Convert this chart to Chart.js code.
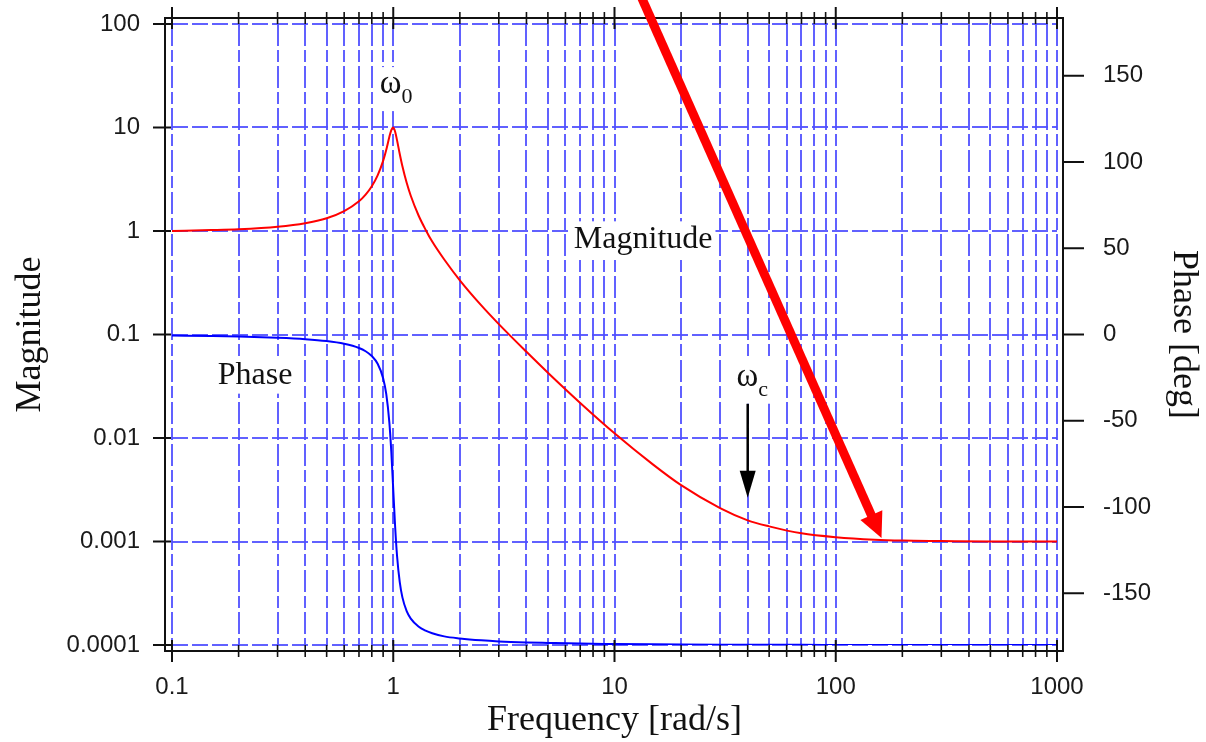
<!DOCTYPE html>
<html>
<head>
<meta charset="utf-8">
<title>Bode plot</title>
<script src="https://cdn.jsdelivr.net/npm/chart.js@4.4.1/dist/chart.umd.min.js"></script>
<style>
  html, body { margin: 0; padding: 0; background: #fff; }
  #wrap { width: 1206px; height: 742px; }
</style>
</head>
<body>
<div id="wrap"><canvas id="bode" width="1206" height="742"></canvas></div>
<script>
// frequency response samples [rad/s]
const freq = [0.1, 0.15, 0.2, 0.3, 0.4, 0.5, 0.6, 0.7, 0.75, 0.8, 0.85, 0.9, 0.93, 0.96, 0.98,
  1.0, 1.02, 1.04, 1.07, 1.1, 1.15, 1.2, 1.3, 1.4, 1.5, 1.7, 2, 2.5, 3, 4,
  5, 7, 10, 15, 20, 30, 40, 50, 70, 100, 150, 200, 300, 500, 1000];
const magnitude = [1.0, 1.02, 1.04, 1.10, 1.19, 1.33, 1.56, 1.94, 2.25, 2.71, 3.45, 4.76, 6.1, 8.1, 9.45,
  10.0, 9.1, 7.55, 5.55, 4.22, 2.92, 2.19, 1.42, 1.03, 0.79, 0.53, 0.334, 0.191, 0.126, 0.068,
  0.0427, 0.0218, 0.0111, 0.0055, 0.0035, 0.0021, 0.0016, 0.0014, 0.0012, 0.0011, 0.00104, 0.00102, 0.00101, 0.001, 0.001];
const phase = [-0.6, -0.9, -1.2, -1.9, -2.7, -3.8, -5.4, -7.8, -9.7, -12.5, -17, -25.3, -34.6, -50.8, -68,
  -90, -111.6, -128.1, -143.6, -152.4, -160.4, -164.7, -169.3, -171.7, -173.2, -175, -176.2, -177.3, -177.9, -178.5,
  -178.8, -179.2, -179.4, -179.6, -179.7, -179.8, -179.85, -179.9, -179.9, -179.95, -180, -180, -180, -180, -180];

// axes
const freqTicks = [0.1, 0.2, 0.3, 0.4, 0.5, 0.6, 0.7, 0.8, 0.9,
  1, 2, 3, 4, 5, 6, 7, 8, 9,
  10, 20, 30, 40, 50, 60, 70, 80, 90,
  100, 200, 300, 400, 500, 600, 700, 800, 900, 1000];
const freqDecades = [0.1, 1, 10, 100, 1000];
const freqLabels = ['0.1', '1', '10', '100', '1000'];
const magTicks = [0.0001, 0.001, 0.01, 0.1, 1, 10, 100];
const magLabels = ['0.0001', '0.001', '0.01', '0.1', '1', '10', '100'];
const phaseTicks = [-150, -100, -50, 0, 50, 100, 150];

// text notes, placed in data units (left edge, baseline)
const notes = [
  { text: 'Magnitude', f: 6.55, m: 0.68 },
  { text: 'Phase', f: 0.161, m: 0.0335 }
];
const omegaNotes = [
  { sub: '0', f: 0.87, m: 21.5 },
  { sub: 'c', f: 35.6, m: 0.032 }
];
const cornerArrow = { f: 40, from: 0.0214, to: 0.00264 };
const redArrow = { f0: 12.8, m0: 213, f1: 161, m1: 0.00108 };

const SANS = "'Liberation Sans', Arial, sans-serif";
const SERIF = "'Liberation Serif', 'Times New Roman', serif";
const GRID = 'rgba(80, 80, 255, 0.9)';

function arrow(ctx, x0, y0, x1, y1, width, headLen, headHalf, color) {
  const len = Math.hypot(x1 - x0, y1 - y0);
  const ux = (x1 - x0) / len, uy = (y1 - y0) / len;
  const bx = x1 - ux * headLen, by = y1 - uy * headLen;
  ctx.strokeStyle = color;
  ctx.lineWidth = width;
  ctx.lineCap = 'butt';
  ctx.beginPath();
  ctx.moveTo(x0, y0);
  ctx.lineTo(bx + ux * 2, by + uy * 2);
  ctx.stroke();
  ctx.fillStyle = color;
  ctx.beginPath();
  ctx.moveTo(x1, y1);
  ctx.lineTo(bx - uy * headHalf, by + ux * headHalf);
  ctx.lineTo(bx + uy * headHalf, by - ux * headHalf);
  ctx.closePath();
  ctx.fill();
}

function seg(ctx, x0, y0, x1, y1) {
  ctx.beginPath();
  ctx.moveTo(x0, y0);
  ctx.lineTo(x1, y1);
  ctx.stroke();
}

// tick label padding should not push the plot area inwards
function noEdgePadding(axis) {
  axis.paddingTop = 0;
  axis.paddingBottom = 0;
  axis.paddingLeft = 0;
  axis.paddingRight = 0;
}

// frame, tick marks, labels and arrows
const bodeDecor = {
  id: 'bodeDecor',
  afterDraw(chart) {
    const { ctx, chartArea: a, scales } = chart;
    const sx = scales.x, sy = scales.y, sp = scales.y1;
    ctx.save();

    // labels on white backing
    ctx.textBaseline = 'alphabetic';
    ctx.textAlign = 'left';
    ctx.font = '32px ' + SERIF;
    notes.forEach(n => {
      const px = sx.getPixelForValue(n.f), py = sy.getPixelForValue(n.m);
      const w = ctx.measureText(n.text).width;
      ctx.fillStyle = '#fff';
      ctx.fillRect(px - 3, py - 27, w + 6, 37);
      ctx.fillStyle = '#111';
      ctx.fillText(n.text, px, py);
    });
    omegaNotes.forEach(n => {
      const px = sx.getPixelForValue(n.f), py = sy.getPixelForValue(n.m);
      ctx.font = '33px ' + SERIF;
      const w = ctx.measureText('\u03c9').width;
      ctx.font = '22px ' + SERIF;
      const ws = ctx.measureText(n.sub).width;
      ctx.fillStyle = '#fff';
      ctx.fillRect(px - 3, py - 26, w + ws + 6, 44);
      ctx.fillStyle = '#111';
      ctx.font = '33px ' + SERIF;
      ctx.fillText('\u03c9', px, py);
      ctx.font = '22px ' + SERIF;
      ctx.fillText(n.sub, px + w, py + 10);
    });

    // axis frame
    const L = a.left - 7, T = a.top - 6, R = a.right + 6, B = a.bottom + 6;
    ctx.strokeStyle = '#111';
    ctx.lineWidth = 2;
    ctx.strokeRect(L, T, R - L, B - T);
    freqTicks.forEach(v => {
      const major = freqDecades.includes(v);
      const px = sx.getPixelForValue(v);
      const h = major ? 11 : 6;
      ctx.lineWidth = major ? 2 : 1.6;
      seg(ctx, px, B - h, px, B + h);
      seg(ctx, px, T - h, px, T + h);
    });
    ctx.lineWidth = 2;
    magTicks.forEach(v => {
      const py = sy.getPixelForValue(v);
      seg(ctx, L - 12, py, L + 6, py);
    });
    phaseTicks.forEach(v => {
      const py = sp.getPixelForValue(v);
      seg(ctx, R, py, R + 21, py);
    });

    // corner frequency pointer
    const cx = sx.getPixelForValue(cornerArrow.f);
    arrow(ctx, cx, sy.getPixelForValue(cornerArrow.from), cx, sy.getPixelForValue(cornerArrow.to),
      2.5, 27, 8, '#000');

    // red pointer to the high-frequency floor
    arrow(ctx, sx.getPixelForValue(redArrow.f0), sy.getPixelForValue(redArrow.m0),
      sx.getPixelForValue(redArrow.f1), sy.getPixelForValue(redArrow.m1),
      9, 25, 12, '#ff0000');

    ctx.restore();
  }
};

const tickFont = { family: SANS, size: 24 };
const titleFont = { family: SERIF, size: 36 };

new Chart(document.getElementById('bode'), {
  type: 'line',
  data: {
    datasets: [
      {
        label: 'Magnitude',
        data: freq.map((f, i) => ({ x: f, y: magnitude[i] })),
        yAxisID: 'y',
        borderColor: '#ff0000',
        borderWidth: 2,
        pointRadius: 0,
        cubicInterpolationMode: 'monotone'
      },
      {
        label: 'Phase',
        data: freq.map((f, i) => ({ x: f, y: phase[i] })),
        yAxisID: 'y1',
        borderColor: '#0000ff',
        borderWidth: 2,
        pointRadius: 0,
        cubicInterpolationMode: 'monotone'
      }
    ]
  },
  options: {
    responsive: false,
    animation: false,
    events: [],
    layout: { padding: { top: 24, left: 0, right: 0, bottom: 0 } },
    plugins: { legend: { display: false }, tooltip: { enabled: false } },
    scales: {
      x: {
        type: 'logarithmic',
        min: 0.1,
        max: 1000,
        afterBuildTicks: axis => { axis.ticks = freqTicks.map(v => ({ value: v })); },
        afterFit: axis => { axis.height = 97; noEdgePadding(axis); },
        ticks: {
          autoSkip: false,
          maxRotation: 0,
          padding: 28,
          color: '#1a1a1a',
          font: tickFont,
          callback: v => { const i = freqDecades.indexOf(v); return i < 0 ? '' : freqLabels[i]; }
        },
        grid: { color: GRID, lineWidth: 2, drawTicks: false },
        border: { display: false, dash: [22, 4, 12, 4] },
        title: { display: true, text: 'Frequency [rad/s]', color: '#111', font: titleFont, padding: { top: 0, bottom: 0 } }
      },
      y: {
        type: 'logarithmic',
        position: 'left',
        min: 0.0001,
        max: 100,
        afterBuildTicks: axis => { axis.ticks = magTicks.map(v => ({ value: v })); },
        afterFit: axis => { axis.width = 172; noEdgePadding(axis); },
        ticks: {
          autoSkip: false,
          padding: 32,
          color: '#1a1a1a',
          font: tickFont,
          callback: v => { const i = magTicks.indexOf(v); return i < 0 ? '' : magLabels[i]; }
        },
        grid: { color: GRID, lineWidth: 2, drawTicks: false },
        border: { display: false, dash: [16, 4] },
        title: { display: true, text: 'Magnitude', color: '#111', font: titleFont, padding: { top: 9, bottom: 0 } }
      },
      y1: {
        type: 'linear',
        position: 'right',
        min: -180,
        max: 180,
        afterBuildTicks: axis => { axis.ticks = phaseTicks.map(v => ({ value: v })); },
        afterFit: axis => { axis.width = 149; noEdgePadding(axis); },
        ticks: {
          autoSkip: false,
          padding: 46,
          color: '#1a1a1a',
          font: tickFont,
          callback: v => String(v)
        },
        grid: { display: false, drawTicks: false },
        border: { display: false },
        title: { display: true, text: 'Phase [deg]', color: '#111', font: titleFont, padding: { top: 1, bottom: 0 } }
      }
    }
  },
  plugins: [bodeDecor]
});
</script>
</body>
</html>
